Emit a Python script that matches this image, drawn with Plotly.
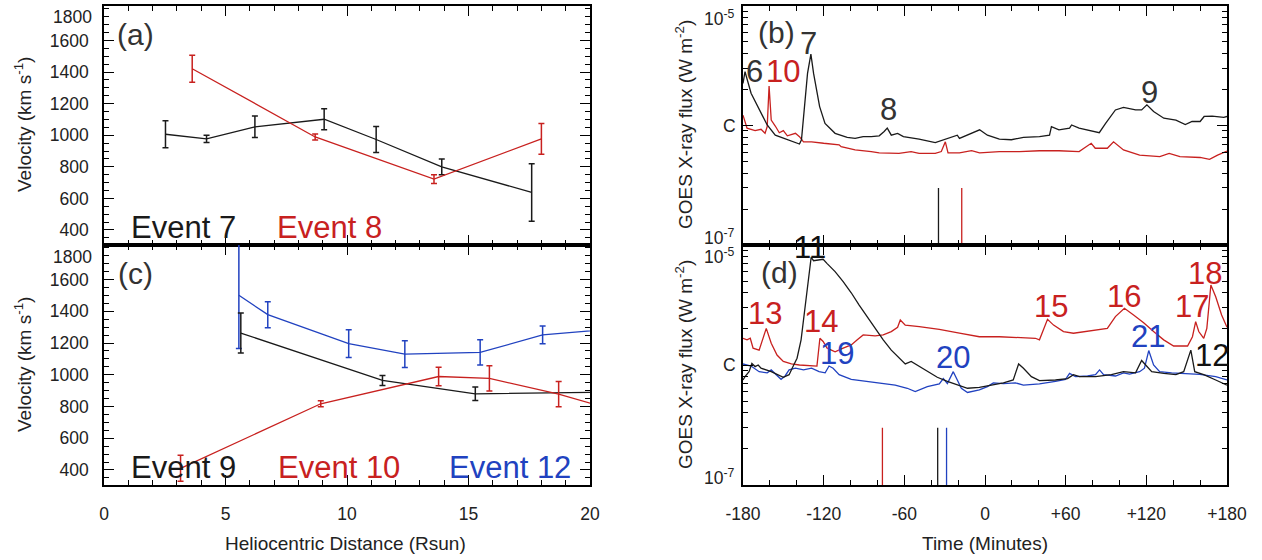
import plotly.graph_objects as go

BLACK = "#1a1a1a"
RED = "#c8211f"
BLUE = "#2142c0"
FONT = "Liberation Sans, Arial, Helvetica, sans-serif"

# ---------------- Panel (a): velocity vs distance ----------------
ev7_r = [2.53, 4.22, 6.21, 9.06, 11.2, 13.9, 17.6]
ev7_v = [1006, 977, 1053, 1101, 973, 800, 638]
ev7_e = [85, 23, 68, 67, 82, 50, 182]
ev8_r = [3.63, 8.69, 13.58, 18.0]
ev8_v = [1421, 989, 722, 977]
ev8_e = [86, 19, 27, 97]

# ---------------- Panel (c) ----------------
ev9_r = [5.63, 11.46, 15.28, 21.5]
ev9_v = [1263, 964, 880, 892]
ev9_e = [126, 32, 43, 40]
ev10_r = [3.15, 8.92, 13.77, 15.86, 18.71, 21.0]
ev10_v = [410, 817, 989, 977, 878, 777]
ev10_e = [82, 19, 58, 79, 79, 60]
ev12_r = [5.55, 6.74, 10.07, 12.38, 15.48, 18.05, 21.0]
ev12_v = [1501, 1379, 1196, 1130, 1141, 1251, 1290]
ev12_e = [335, 82, 88, 85, 80, 56, 60]

vel_ticks = [400, 600, 800, 1000, 1200, 1400, 1600]

# ---------------- Panel (b): GOES flux ----------------
b_blk_t = [-180, -178.5, -174, -168, -162, -156, -147, -138, -136.5, -134.5, -132, -129.5, -127.5,
           -123, -119, -111.5, -102.5, -96.6, -90.6, -84.6, -78.7, -75, -72.7, -69.7, -65, -60.7,
           -49, -37, -31, -25, -20.6, -19, -13, -4, 1.8, 10.7, 19.6, 28.6, 40.5, 48, 49.4, 55,
           62.9, 64.4, 70, 79, 85, 89.7, 97, 103, 112, 116.5, 120.4, 125.4, 133, 142, 149, 154,
           160, 163, 169, 177.6, 180]
b_blk_f = [2.25e-6, 2.82e-6, 1.86e-6, 1.35e-6, 1.01e-6, 8.3e-7, 7.6e-7, 7.0e-7, 7.6e-7, 1.35e-6,
           2.73e-6, 3.96e-6, 2.73e-6, 1.44e-6, 1.04e-6, 8.6e-7, 7.96e-7, 7.8e-7, 8.07e-7, 8.07e-7,
           8.2e-7, 8.9e-7, 9.5e-7, 8.3e-7, 8.6e-7, 8.07e-7, 7.7e-7, 7.2e-7, 7.6e-7, 8.07e-7,
           8.3e-7, 7.8e-7, 8.3e-7, 9.2e-7, 8.3e-7, 7.7e-7, 7.6e-7, 7.96e-7, 8.07e-7, 8.3e-7,
           9.8e-7, 9.2e-7, 9.5e-7, 1.01e-6, 9.5e-7, 9.0e-7, 8.7e-7, 1.04e-6, 1.35e-6, 1.42e-6,
           1.35e-6, 1.35e-6, 1.49e-6, 1.31e-6, 1.15e-6, 1.11e-6, 1.02e-6, 1.08e-6, 1.08e-6,
           1.19e-6, 1.20e-6, 1.17e-6, 1.19e-6]
b_red_t = [-180, -177, -171, -166.6, -163.6, -162, -160.6, -159, -156, -153, -150, -147, -141,
           -138, -135, -129, -120, -108.5, -107, -96.6, -84.6, -78.7, -64, -55, -49, -37, -32.5,
           -29.5, -27.5, -19, -10, -4, 10.7, 25.6, 40.5, 55, 70, 79, 82, 91, 95.6, 103, 115, 130,
           137, 145, 160, 167, 173, 180]
b_red_f = [1.22e-6, 9.5e-7, 9.05e-7, 9.3e-7, 8.6e-7, 9.8e-7, 2.14e-6, 1.11e-6, 9.9e-7, 8.7e-7,
           9.05e-7, 8.2e-7, 8.6e-7, 8.07e-7, 7.3e-7, 7.3e-7, 7.1e-7, 6.9e-7, 6.65e-7, 6.25e-7,
           6.05e-7, 5.9e-7, 5.85e-7, 6.05e-7, 5.85e-7, 5.85e-7, 6.05e-7, 7.3e-7, 5.9e-7, 5.9e-7,
           6.15e-7, 5.9e-7, 6.05e-7, 6.05e-7, 6.15e-7, 6.15e-7, 6.05e-7, 7.1e-7, 6.45e-7,
           6.45e-7, 7.3e-7, 6.25e-7, 5.65e-7, 5.5e-7, 5.85e-7, 5.5e-7, 5.4e-7, 5.2e-7, 5.65e-7,
           6.1e-7]
b_mark_t_blk = -34.6
b_mark_t_red = -17.3

# ---------------- Panel (d) ----------------
d_blk_t = [-180, -178.5, -175.5, -173.4, -171, -168.7, -166.6, -159, -150, -145.7, -142.8, -139.8,
           -136.8, -133.8, -130.8, -129.3, -127.5, -124.9, -120.4, -117.4, -111.5, -105.5, -99.5,
           -93.6, -87.6, -81.7, -75.7, -69.7, -63.8, -59.3, -54.9, -48.9, -42.9, -35.5, -28, -19,
           -13, -4.2, 4.7, 13.7, 21, 25, 28.6, 34.5, 40.5, 52.4, 61.4, 65.8, 70.3, 82.2, 94, 103,
           112, 116.5, 119.5, 124, 133, 142, 147.8, 153.1, 156, 162.7, 171.6, 180]
d_blk_f = [7.5e-7, 8.0e-7, 8.8e-7, 1.03e-6, 9.7e-7, 1.0e-6, 9.4e-7, 8.8e-7, 7.9e-7, 8.3e-7, 9.7e-7,
           1.14e-6, 1.62e-6, 3.06e-6, 5.81e-6, 7.9e-6, 7.4e-6, 7.5e-6, 7.6e-6, 7.0e-6, 6.0e-6,
           4.95e-6, 4.0e-6, 3.16e-6, 2.53e-6, 2.02e-6, 1.62e-6, 1.33e-6, 1.14e-6, 1.02e-6,
           1.07e-6, 9.7e-7, 8.8e-7, 7.9e-7, 7.3e-7, 6.7e-7, 6.4e-7, 6.5e-7, 6.8e-7, 7.1e-7,
           7.5e-7, 1.02e-6, 9.4e-7, 8.0e-7, 7.4e-7, 7.5e-7, 7.7e-7, 8.3e-7, 8.0e-7, 8.0e-7,
           8.3e-7, 8.8e-7, 8.6e-7, 1.09e-6, 1.0e-6, 8.8e-7, 8.5e-7, 8.3e-7, 8.8e-7, 1.33e-6,
           8.8e-7, 8.3e-7, 7.5e-7, 6.8e-7]
d_red_t = [-180, -177, -174.6, -172.5, -168, -165, -162.7, -159, -154.7, -150, -144, -138, -129,
           -125, -122.8, -120.4, -117.4, -111.5, -105.5, -99.5, -95, -90.6, -81.7, -75.7, -69.7,
           -65, -63, -59.3, -48.9, -34, -19, -4.2, 10.7, 25.6, 37.5, 40.5, 43.5, 46.5, 51, 58.4,
           65.8, 73.3, 82.2, 91, 97, 103.7, 110.5, 118, 125.4, 132.9, 140.3, 144.8, 150.7, 154.3,
           156.7, 159, 162.7, 165, 168, 171.6, 176, 180]
d_red_f = [1.67e-6, 1.62e-6, 1.67e-6, 1.38e-6, 1.33e-6, 1.72e-6, 2.02e-6, 1.52e-6, 1.21e-6,
           1.07e-6, 1.02e-6, 1.0e-6, 9.8e-7, 9.8e-7, 1.67e-6, 1.57e-6, 1.38e-6, 1.29e-6, 1.38e-6,
           1.47e-6, 1.62e-6, 1.78e-6, 1.75e-6, 1.78e-6, 1.9e-6, 2.06e-6, 2.37e-6, 2.15e-6,
           2.09e-6, 1.98e-6, 1.84e-6, 1.72e-6, 1.72e-6, 1.69e-6, 1.67e-6, 1.62e-6, 1.96e-6,
           2.4e-6, 2.15e-6, 1.9e-6, 1.84e-6, 1.9e-6, 1.96e-6, 2.02e-6, 2.53e-6, 2.97e-6, 2.61e-6,
           2.25e-6, 1.9e-6, 1.62e-6, 1.44e-6, 1.44e-6, 1.44e-6, 1.72e-6, 2.3e-6, 1.9e-6, 1.67e-6,
           2.02e-6, 4.64e-6, 3.71e-6, 2.61e-6, 2.06e-6]
d_blu_t = [-180, -174, -168, -162, -159, -156, -151.7, -148.7, -145.7, -141, -135, -129, -123.4,
           -118.9, -116, -113, -108.5, -99.5, -87.6, -77, -66.8, -57.8, -51.9, -42.9, -34, -31,
           -28, -23.6, -20.6, -17.6, -13, -4.2, 1.8, 6.2, 13.7, 22.6, 28.6, 40.5, 52.4, 59.9,
           62.9, 67.3, 76.3, 82.2, 85.2, 88.2, 97.1, 103, 107.5, 115, 118.6, 121.8, 125.4, 129.9,
           138.8, 150.7, 159.7, 171.6, 180]
d_blu_f = [1.02e-6, 9.8e-7, 8.8e-7, 8.6e-7, 9.1e-7, 8.5e-7, 7.6e-7, 8.1e-7, 9.1e-7, 9.4e-7,
           9.1e-7, 9.4e-7, 8.8e-7, 8.6e-7, 9.8e-7, 9.4e-7, 8.3e-7, 7.6e-7, 7.3e-7, 7.0e-7,
           6.8e-7, 6.4e-7, 6.0e-7, 6.6e-7, 6.95e-7, 7.7e-7, 7.0e-7, 8.8e-7, 7.5e-7, 6.4e-7,
           5.9e-7, 6.2e-7, 6.6e-7, 7.1e-7, 7.0e-7, 7.1e-7, 6.8e-7, 6.95e-7, 7.3e-7, 7.6e-7,
           8.5e-7, 8.0e-7, 8.1e-7, 8.3e-7, 9.1e-7, 8.3e-7, 8.1e-7, 8.6e-7, 8.4e-7, 8.8e-7,
           9.4e-7, 1.32e-6, 1.0e-6, 8.8e-7, 8.6e-7, 8.5e-7, 8.35e-7, 8.0e-7, 7.5e-7]
d_mark_t_red = -76.3
d_mark_t_blk = -35.2
d_mark_t_blu = -28.6
mark_lo = 1e-7
mark_hi = 3e-7

flux_ticks = [1e-6]
flux_labels = ["C"]
time_ticks = [-180, -120, -60, 0, 60, 120, 180]
time_labels = ["-180", "-120", "-60", "0", "+60", "+120", "+180"]

fig = go.Figure()


def err_line(x, y, e, color, xa, ya):
    fig.add_trace(go.Scatter(
        x=x, y=y, mode="lines", xaxis=xa, yaxis=ya,
        line=dict(color=color, width=1.3),
        error_y=dict(type="data", array=e, visible=True, color=color, thickness=1.5, width=3),
        showlegend=False, hoverinfo="skip"))


def flux_line(x, y, color, xa, ya):
    fig.add_trace(go.Scatter(x=x, y=y, mode="lines", xaxis=xa, yaxis=ya,
                             line=dict(color=color, width=1.3), showlegend=False,
                             hoverinfo="skip"))


err_line(ev7_r, ev7_v, ev7_e, BLACK, "x", "y")
err_line(ev8_r, ev8_v, ev8_e, RED, "x", "y")
err_line(ev12_r, ev12_v, ev12_e, BLUE, "x2", "y2")
err_line(ev9_r, ev9_v, ev9_e, BLACK, "x2", "y2")
err_line(ev10_r, ev10_v, ev10_e, RED, "x2", "y2")

flux_line(b_red_t, b_red_f, RED, "x3", "y3")
flux_line(b_blk_t, b_blk_f, BLACK, "x3", "y3")
flux_line([b_mark_t_blk, b_mark_t_blk], [mark_lo, mark_hi], BLACK, "x3", "y3")
flux_line([b_mark_t_red, b_mark_t_red], [mark_lo, mark_hi], RED, "x3", "y3")

flux_line(d_red_t, d_red_f, RED, "x4", "y4")
flux_line(d_blu_t, d_blu_f, BLUE, "x4", "y4")
flux_line(d_blk_t, d_blk_f, BLACK, "x4", "y4")
flux_line([d_mark_t_red, d_mark_t_red], [mark_lo, mark_hi], RED, "x4", "y4")
flux_line([d_mark_t_blk, d_mark_t_blk], [mark_lo, mark_hi], BLACK, "x4", "y4")
flux_line([d_mark_t_blu, d_mark_t_blu], [mark_lo, mark_hi], BLUE, "x4", "y4")

W, H = 1262, 560
LX = [104 / W, 590 / W]
RX = [743 / W, 1227 / W]
TOP = [1 - 245 / H, 1 - 6 / H]
BOT = [1 - 485 / H, 1 - 245 / H]

TICKSIZE = 17.5
tickfont = dict(family=FONT, size=TICKSIZE, color="#222")
common = dict(showgrid=False, zeroline=False, automargin=False,
              showline=True, linecolor="black", linewidth=1.6, mirror="ticks",
              ticks="inside", ticklen=10, tickwidth=1.4, tickcolor="black",
              tickfont=tickfont)


def xax(domain, anchor, rng, labels, tickvals=None, ticktext=None, dtick=None, mdtick=None):
    d = dict(domain=domain, anchor=anchor, range=rng, showticklabels=labels,
             ticklabelstandoff=12,
             minor=dict(ticks="inside", ticklen=5, tickwidth=1.2, dtick=mdtick, tickcolor="black"),
             **common)
    if tickvals is not None:
        d.update(tickmode="array", tickvals=tickvals, ticktext=ticktext)
    else:
        d.update(dtick=dtick, tick0=0)
    return d


def yvel(domain, anchor):
    return dict(domain=domain, anchor=anchor, range=[305, 1818],
                tickmode="array", tickvals=vel_ticks,
                minor=dict(ticks="inside", ticklen=5, tickwidth=1.2, dtick=50, tickcolor="black"),
                ticklabelstandoff=10, **common)


def yflux(domain, anchor):
    return dict(domain=domain, anchor=anchor, type="log", range=[-7, -5],
                tickmode="array", tickvals=flux_ticks, ticktext=flux_labels,
                minor=dict(ticks="inside", ticklen=5, tickwidth=1.2, dtick="D1", tickcolor="black"),
                ticklabelstandoff=2, **common)


fig.update_layout(
    width=W, height=H, margin=dict(l=0, r=0, t=0, b=0, autoexpand=False),
    paper_bgcolor="white", plot_bgcolor="white", showlegend=False,
    font=dict(family=FONT, color="#222"),
    xaxis=xax(LX, "y", [0, 20], False, dtick=5, mdtick=1),
    yaxis=yvel(TOP, "x"),
    xaxis2=xax(LX, "y2", [0, 20], True, dtick=5, mdtick=1),
    yaxis2=yvel(BOT, "x2"),
    xaxis3=xax(RX, "y3", [-180, 180], False, time_ticks, time_labels, mdtick=20),
    yaxis3=yflux(TOP, "x3"),
    xaxis4=xax(RX, "y4", [-180, 180], True, time_ticks, time_labels, mdtick=20),
    yaxis4=yflux(BOT, "x4"),
)

ann = []


def txt(x, y, s, color, size, xref, yref, **kw):
    d = dict(x=x, y=y, text=s, xref=xref, yref=yref, showarrow=False,
             font=dict(family=FONT, size=size, color=color), xanchor="center", yanchor="middle")
    d.update(kw)
    ann.append(d)


def paper_txt(px, py, s, size, **kw):
    txt(px / W, 1 - py / H, s, "#222", size, "paper", "paper", **kw)


# end-of-axis tick labels (shifted inward as in the original)
paper_txt(94, 17, "1800", TICKSIZE, xanchor="right")
paper_txt(94, 257, "1800", TICKSIZE, xanchor="right")
paper_txt(737, 18, "10<sup>-5</sup>", TICKSIZE, xanchor="right")
paper_txt(737, 237, "10<sup>-7</sup>", TICKSIZE, xanchor="right")
paper_txt(737, 256, "10<sup>-5</sup>", TICKSIZE, xanchor="right")
paper_txt(737, 477, "10<sup>-7</sup>", TICKSIZE, xanchor="right")

# panel labels
txt(1.28, 1640, "(a)", "#333", 30, "x", "y")
txt(1.28, 1640, "(c)", "#333", 30, "x2", "y2")
txt(-155, -5.22, "(b)", "#333", 30, "x3", "y3")
txt(-153, -5.23, "(d)", "#333", 30, "x4", "y4")

# event legends
txt(3.26, 415, "Event 7", BLACK, 31, "x", "y")
txt(9.28, 415, "Event 8", RED, 31, "x", "y")
txt(3.26, 415, "Event 9", BLACK, 31, "x2", "y2")
txt(9.65, 415, "Event 10", RED, 31, "x2", "y2")
txt(16.7, 415, "Event 12", BLUE, 31, "x2", "y2")

# numbers in (b)
txt(-171.5, -5.55, "6", "#333", 31, "x3", "y3")
txt(-150, -5.55, "10", RED, 31, "x3", "y3")
txt(-131, -5.31, "7", "#333", 31, "x3", "y3")
txt(-72, -5.87, "8", "#333", 31, "x3", "y3")
txt(122, -5.72, "9", "#333", 31, "x3", "y3")

# numbers in (d)
txt(-130, -5.017, "11", "#111", 31, "x4", "y4")
txt(-163.6, -5.57, "13", RED, 31, "x4", "y4")
txt(-122, -5.64, "14", RED, 31, "x4", "y4")
txt(-110, -5.90, "19", BLUE, 31, "x4", "y4")
txt(-23.6, -5.94, "20", BLUE, 31, "x4", "y4")
txt(48.8, -5.51, "15", RED, 31, "x4", "y4")
txt(103.7, -5.43, "16", RED, 31, "x4", "y4")
txt(153.7, -5.51, "17", RED, 31, "x4", "y4")
txt(163.6, -5.24, "18", RED, 31, "x4", "y4")
txt(121.5, -5.76, "21", BLUE, 31, "x4", "y4")
txt(168.6, -5.92, "12", "#111", 31, "x4", "y4")

# axis titles
for yc in [125, 365]:
    paper_txt(23, yc, "Velocity (km s<sup>-1</sup>)", 19, textangle=-90)
    paper_txt(684, yc, "GOES X-ray flux (W m<sup>-2</sup>)", 19, textangle=-90)
paper_txt(345, 543, "Heliocentric Distance (Rsun)", 19)
paper_txt(985, 543, "Time (Minutes)", 19)

fig.update_layout(annotations=ann)
fig.write_html("out.html", config={"displayModeBar": False},
               post_script="document.body.style.margin='0';document.body.style.overflow='hidden';")
